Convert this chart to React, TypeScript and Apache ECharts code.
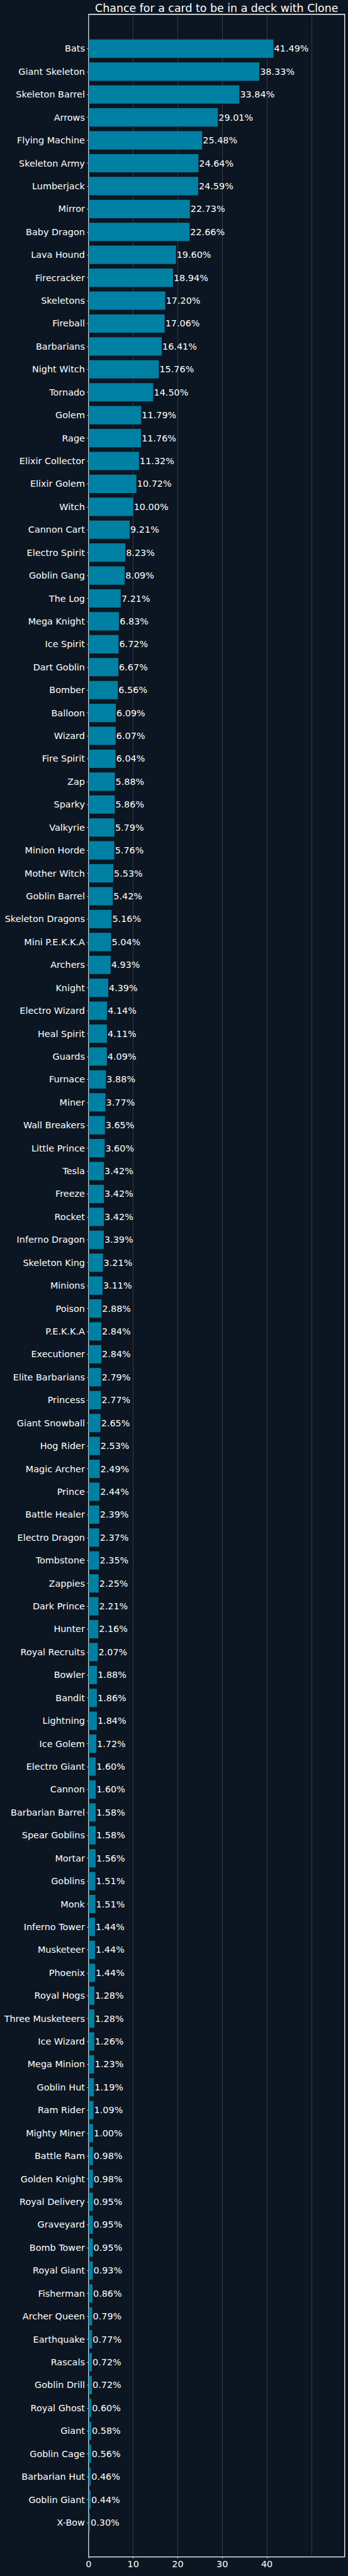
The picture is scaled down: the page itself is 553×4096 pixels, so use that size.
import React, { useEffect, useRef } from "react";
import * as echarts from "echarts";

const TITLE = "Chance for a card to be in a deck with Clone";

const categories: string[] = [
  "Bats", "Giant Skeleton", "Skeleton Barrel", "Arrows", "Flying Machine", "Skeleton Army",
  "Lumberjack", "Mirror", "Baby Dragon", "Lava Hound", "Firecracker", "Skeletons", "Fireball",
  "Barbarians", "Night Witch", "Tornado", "Golem", "Rage", "Elixir Collector", "Elixir Golem",
  "Witch", "Cannon Cart", "Electro Spirit", "Goblin Gang", "The Log", "Mega Knight", "Ice Spirit",
  "Dart Goblin", "Bomber", "Balloon", "Wizard", "Fire Spirit", "Zap", "Sparky", "Valkyrie",
  "Minion Horde", "Mother Witch", "Goblin Barrel", "Skeleton Dragons", "Mini P.E.K.K.A", "Archers",
  "Knight", "Electro Wizard", "Heal Spirit", "Guards", "Furnace", "Miner", "Wall Breakers",
  "Little Prince", "Tesla", "Freeze", "Rocket", "Inferno Dragon", "Skeleton King", "Minions",
  "Poison", "P.E.K.K.A", "Executioner", "Elite Barbarians", "Princess", "Giant Snowball",
  "Hog Rider", "Magic Archer", "Prince", "Battle Healer", "Electro Dragon", "Tombstone", "Zappies",
  "Dark Prince", "Hunter", "Royal Recruits", "Bowler", "Bandit", "Lightning", "Ice Golem",
  "Electro Giant", "Cannon", "Barbarian Barrel", "Spear Goblins", "Mortar", "Goblins", "Monk",
  "Inferno Tower", "Musketeer", "Phoenix", "Royal Hogs", "Three Musketeers", "Ice Wizard",
  "Mega Minion", "Goblin Hut", "Ram Rider", "Mighty Miner", "Battle Ram", "Golden Knight",
  "Royal Delivery", "Graveyard", "Bomb Tower", "Royal Giant", "Fisherman", "Archer Queen",
  "Earthquake", "Rascals", "Goblin Drill", "Royal Ghost", "Giant", "Goblin Cage", "Barbarian Hut",
  "Goblin Giant", "X-Bow",
];

const values: number[] = [
  41.49, 38.33, 33.84, 29.01, 25.48, 24.64,
  24.59, 22.73, 22.66, 19.60, 18.94, 17.20, 17.06,
  16.41, 15.76, 14.50, 11.79, 11.76, 11.32, 10.72,
  10.00, 9.21, 8.23, 8.09, 7.21, 6.83, 6.72,
  6.67, 6.56, 6.09, 6.07, 6.04, 5.88, 5.86, 5.79,
  5.76, 5.53, 5.42, 5.16, 5.04, 4.93,
  4.39, 4.14, 4.11, 4.09, 3.88, 3.77, 3.65,
  3.60, 3.42, 3.42, 3.42, 3.39, 3.21, 3.11,
  2.88, 2.84, 2.84, 2.79, 2.77, 2.65,
  2.53, 2.49, 2.44, 2.39, 2.37, 2.35, 2.25,
  2.21, 2.16, 2.07, 1.88, 1.86, 1.84, 1.72,
  1.60, 1.60, 1.58, 1.58, 1.56, 1.51, 1.51,
  1.44, 1.44, 1.44, 1.28, 1.28, 1.26,
  1.23, 1.19, 1.09, 1.00, 0.98, 0.98,
  0.95, 0.95, 0.95, 0.93, 0.86, 0.79,
  0.77, 0.72, 0.72, 0.60, 0.58, 0.56, 0.46,
  0.44, 0.30,
];

const xTicks: number[] = [0, 10, 20, 30, 40, 50];
const X_MAX = 57.47;

const FONT = "DejaVu Sans";
const BG = "#0c1622";
const BAR = "#0080a3";

export default function App() {
  const ref = useRef<HTMLDivElement>(null);

  useEffect(() => {
    if (!ref.current) return;
    const chart = echarts.init(ref.current, undefined, { renderer: "svg" });
    const n = categories.length;
    const yData = ["", ...categories, ""];
    const sData: any[] = ["-", ...values, "-"];

    const option: any = {
      animation: false,
      backgroundColor: BG,
      textStyle: { fontFamily: FONT },
      graphic: [
        {
          type: "text",
          x: 344.3,
          y: 12.8,
          style: {
            text: TITLE,
            fill: "#ffffff",
            fontFamily: FONT,
            fontSize: 17.4,
            textAlign: "center",
            textVerticalAlign: "middle",
          },
        },
      ],
      grid: {
        left: 140.9,
        top: 22.76,
        width: 406.8,
        height: 4042.8,
        show: true,
        borderColor: "#ffffff",
        borderWidth: 1.3,
        backgroundColor: "transparent",
        containLabel: false,
      },
      xAxis: {
        type: "value",
        min: 0,
        max: X_MAX,
        interval: 10,
        axisLine: { show: false },
        axisTick: {
          show: true,
          length: 2.6,
          lineStyle: { color: "#ffffff", width: 0.8 },
          customValues: xTicks,
        },
        axisLabel: {
          color: "#ffffff",
          fontFamily: FONT,
          fontSize: 14.4,
          margin: 4,
          customValues: xTicks,
          showMaxLabel: false,
        },
        splitLine: {
          show: true,
          lineStyle: { color: "#4b5461", width: 0.6 },
        },
      },
      yAxis: {
        type: "category",
        inverse: true,
        data: yData,
        axisLine: { show: false },
        axisTick: {
          show: true,
          alignWithLabel: true,
          length: 2.6,
          interval: (i: number) => i > 0 && i <= n,
          lineStyle: { color: "#ffffff", width: 0.8 },
        },
        axisLabel: {
          interval: 0,
          color: "#ffffff",
          fontFamily: FONT,
          fontSize: 14.4,
          margin: 6,
        },
        splitLine: { show: false },
      },
      series: [
        {
          type: "bar",
          data: sData,
          barCategoryGap: "20%",
          itemStyle: { color: BAR },
          label: {
            show: true,
            position: "right",
            distance: 1,
            color: "#ffffff",
            fontFamily: FONT,
            fontSize: 14.4,
            formatter: (p: any) => `${Number(p.value).toFixed(2)}%`,
          },
        },
      ],
    };

    chart.setOption(option);
    return () => {
      chart.dispose();
    };
  }, []);

  return (
    <div
      ref={ref}
      style={{ position: "absolute", left: 0, top: 0, width: 553, height: 4096 }}
    />
  );
}
